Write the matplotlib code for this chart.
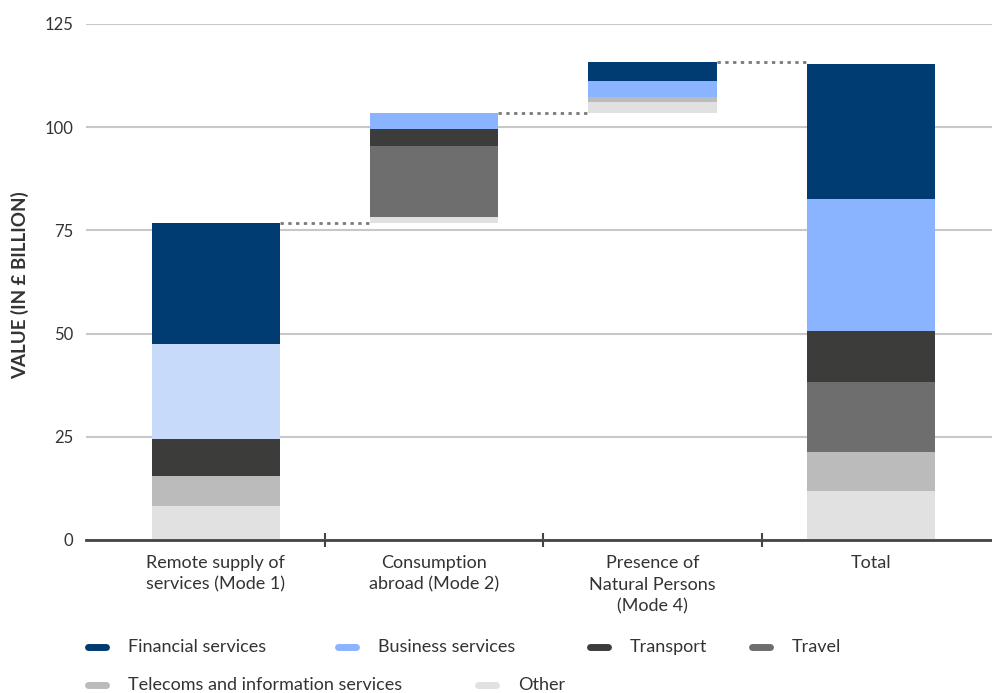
import numpy as np
import matplotlib.pyplot as plt
from matplotlib.lines import Line2D

plt.rcParams['font.family'] = ['Lato', 'DejaVu Sans']

# ==========================================
# data (GBP billion), stacked bottom -> top
# ==========================================
categories = ["Remote supply of\nservices (Mode 1)",
              "Consumption\nabroad (Mode 2)",
              "Presence of\nNatural Persons\n(Mode 4)",
              "Total"]

other = [8.2, 1.4, 2.8, 11.9]
telecoms = [7.3, 0.0, 1.1, 9.4]
travel = [0.0, 17.3, 0.0, 17.0]
transport = [9.0, 4.1, 0.0, 12.3]
business = [23.0, 3.8, 4.0, 32.0]
financial = [29.3, 0.0, 4.6, 32.7]

series_names = ["Other", "Telecoms and information services", "Travel",
                "Transport", "Business services", "Financial services"]
series_vals = [other, telecoms, travel, transport, business, financial]
series_cols = ["#e1e1e1", "#bbbbbb", "#6e6e6e", "#3c3c3b", "#8ab4ff", "#003b71"]
# mode 1 business services is drawn in a paler blue
business_cols = ["#c7dafa", "#8ab4ff", "#8ab4ff", "#8ab4ff"]

# ==========================================
# waterfall bases
# ==========================================
stack = np.array(series_vals)
mode_tot = stack[:, :3].sum(axis=0)
tops = np.cumsum(mode_tot)
base = np.array([0, tops[0], tops[1], 0.0])

fig = plt.figure(figsize=(9.92, 6.93), dpi=100)
ax = fig.add_axes([86 / 992, (693 - 540) / 693, 1 - 86 / 992, (540 - 24) / 693])

x = np.arange(len(categories))
w = 0.587
bottom = base.copy()
for name, vals, col in zip(series_names, series_vals, series_cols):
    vals = np.array(vals)
    cols = business_cols if name == "Business services" else col
    ax.bar(x, vals, w, bottom=bottom, color=cols, linewidth=0, zorder=3)
    bottom = bottom + vals

# dotted connectors between bars
for i in range(3):
    ax.plot([x[i] + w / 2, x[i + 1] - w / 2], [tops[i], tops[i]],
            color="#7a7a7a", linestyle=(0, (1.2, 1.6)), linewidth=2, zorder=2)

ax.set_xlim(-0.595, 3.555)
ax.set_ylim(0, 125)
ax.set_yticks([0, 25, 50, 75, 100, 125])
ax.yaxis.grid(True, color="#c8c8c8", linewidth=1.5, zorder=0)
ax.set_axisbelow(True)
for s in ["top", "right", "left"]:
    ax.spines[s].set_visible(False)
ax.spines["bottom"].set_color("#444444")
ax.spines["bottom"].set_linewidth(2)
ax.spines["bottom"].set_zorder(4)

ax.tick_params(axis="y", length=0, pad=9, labelsize=12, labelcolor="#333333")
ax.set_xticks([0.5, 1.5, 2.5])
ax.set_xticklabels([])
ax.tick_params(axis="x", direction="inout", length=10, width=1.5, color="#444444")

for xi, lab in zip(x, categories):
    ax.text(xi, -3.6, lab, ha="center", va="top", fontsize=13,
            color="#333333", linespacing=1.45)

fig.text(20 / 992, 1 - 285 / 693, "VALUE (IN £ BILLION)", rotation=90,
         ha="center", va="center", fontsize=13.5, fontweight="bold",
         color="#333333")

# legend, drawn by hand
leg_order = ["Financial services", "Business services", "Transport", "Travel",
             "Telecoms and information services", "Other"]
leg_pos = [(88, 647), (338, 647), (590, 647), (752, 647), (88, 685), (478, 685)]
for name, (px, py) in zip(leg_order, leg_pos):
    col = series_cols[series_names.index(name)]
    fy = 1 - py / 693
    fig.add_artist(Line2D([px / 992, (px + 18) / 992], [fy, fy], color=col,
                          linewidth=5, solid_capstyle="round",
                          transform=fig.transFigure))
    fig.text((px + 40) / 992, fy, name, ha="left", va="center",
             fontsize=13, color="#333333")

fig.savefig("out.png", dpi=100)
